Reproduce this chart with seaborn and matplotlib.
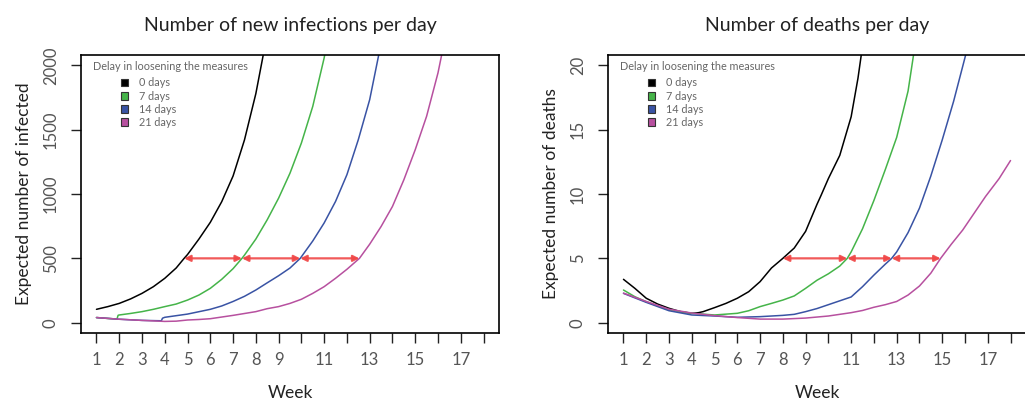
import pandas as pd
import matplotlib.pyplot as plt
import seaborn as sns
from matplotlib.patches import Patch

# ---- data (week, value) ----
delays = ["0 days", "7 days", "14 days", "21 days"]
colors = ["#000000", "#45B449", "#3953A4", "#B7509F"]

inf_0_w = [1, 1.5, 2, 2.5, 3, 3.5, 4, 4.5, 4.85, 5, 5.5, 6, 6.5, 7, 7.5, 8, 8.4]
inf_0_v = [104, 125, 150, 185, 228, 280, 345, 425, 500, 530, 650, 780, 940, 1140, 1420, 1780, 2150]
inf_7_w = [1, 1.5, 1.9, 1.95, 2, 2.5, 3, 3.5, 4, 4.5, 5, 5.5, 6, 6.5, 7, 7.39, 7.5, 8, 8.5, 9, 9.5, 10, 10.5, 11, 11.2]
inf_7_v = [40, 33, 28, 58, 60, 72, 86, 104, 125, 145, 176, 215, 267, 337, 420, 500, 525, 650, 800, 968, 1162, 1396, 1681, 2057, 2250]
inf_14_w = [1, 2, 3, 3.85, 3.9, 4, 5, 6, 6.5, 7, 7.5, 8, 8.5, 9, 9.5, 9.95, 10.5, 11, 11.5, 12, 12.5, 13, 13.4, 13.6]
inf_14_v = [40, 27, 18, 15, 35, 42, 67, 104, 130, 165, 205, 254, 310, 365, 425, 500, 635, 775, 942, 1150, 1422, 1733, 2083, 2250]
inf_21_w = [1, 2, 3, 4, 4.5, 5, 5.5, 6, 7, 8, 8.5, 9, 9.5, 10, 10.5, 11, 11.5, 12, 12.55, 13, 13.5, 14, 14.5, 15, 15.5, 16, 16.3]
inf_21_v = [40, 27, 18, 10, 12, 21, 25, 31, 57, 86, 109, 125, 150, 182, 228, 280, 345, 415, 500, 610, 747, 903, 1110, 1344, 1604, 1941, 2200]

dth_0_w = [1, 1.5, 2, 2.5, 3, 3.5, 4, 4.3, 4.5, 5, 5.5, 6, 6.5, 7, 7.5, 8, 8.5, 9, 9.5, 9.68, 10, 10.5, 10.7, 11, 11.3, 11.5]
dth_0_v = [3.37, 2.67, 1.9, 1.45, 1.12, 0.86, 0.73, 0.78, 0.86, 1.17, 1.5, 1.9, 2.41, 3.19, 4.25, 5.0, 5.8, 7.1, 9.2, 9.9, 11.2, 13.0, 14.2, 16.0, 19.0, 21.5]
dth_7_w = [1, 1.5, 2, 3, 4, 5, 6, 6.5, 7, 7.5, 8, 8.5, 9, 9.5, 10, 10.5, 10.83, 11, 11.5, 12, 12.5, 13, 13.5, 13.8]
dth_7_v = [2.54, 2.02, 1.63, 0.99, 0.73, 0.6, 0.73, 0.93, 1.25, 1.5, 1.76, 2.08, 2.67, 3.3, 3.8, 4.4, 5.0, 5.5, 7.3, 9.5, 11.9, 14.4, 18.0, 21.5]
dth_14_w = [1, 2, 3, 4, 5, 6, 7, 8, 8.5, 9, 9.5, 10, 10.5, 11, 11.5, 12, 12.5, 12.78, 13, 13.5, 14, 14.5, 15, 15.5, 16, 16.2]
dth_14_v = [2.28, 1.58, 0.93, 0.6, 0.52, 0.42, 0.47, 0.57, 0.65, 0.86, 1.1, 1.4, 1.7, 2.0, 2.8, 3.7, 4.55, 5.0, 5.5, 7.0, 8.9, 11.4, 14.2, 17.2, 20.6, 22.0]
dth_21_w = [1, 2, 3, 4, 5, 6, 7, 8, 9, 10, 11, 11.5, 12, 12.5, 13, 13.5, 14, 14.5, 14.93, 15.4, 15.9, 16.4, 16.9, 17.5, 18]
dth_21_v = [2.3, 1.65, 1.05, 0.75, 0.55, 0.4, 0.28, 0.28, 0.36, 0.52, 0.78, 0.95, 1.2, 1.4, 1.65, 2.15, 2.85, 3.85, 5.0, 6.1, 7.2, 8.5, 9.8, 11.2, 12.6]

cross_inf = [4.85, 7.39, 9.95, 12.55]
cross_dth = [8.0, 10.83, 12.78, 14.93]

weeks = list(range(1, 19))
week_labels = [str(w) if (w <= 9 or w % 2 == 1) else "" for w in weeks]


def build(series):
    frames = []
    for name, (w, v) in zip(delays, series):
        frames.append(pd.DataFrame({"week": w, "value": v, "delay": name}))
    return pd.concat(frames, ignore_index=True)


df_inf = build([(inf_0_w, inf_0_v), (inf_7_w, inf_7_v), (inf_14_w, inf_14_v), (inf_21_w, inf_21_v)])
df_dth = build([(dth_0_w, dth_0_v), (dth_7_w, dth_7_v), (dth_14_w, dth_14_v), (dth_21_w, dth_21_v)])

sns.set_style("ticks")
plt.rcParams["font.family"] = ["Lato", "DejaVu Sans"]

fig = plt.figure(figsize=(10.25, 4.04), dpi=100)
ax1 = fig.add_axes([81 / 1025, 1 - 333 / 404, 418 / 1025, 278 / 404])
ax2 = fig.add_axes([608 / 1025, 1 - 333 / 404, 418 / 1025, 278 / 404])

palette = dict(zip(delays, colors))


def panel(ax, df, ymax, yticks, cross, level, title, ylabel):
    sns.lineplot(data=df, x="week", y="value", hue="delay", palette=palette,
                 estimator=None, sort=True, legend=False, linewidth=1.1, ax=ax)
    ax.set_xlim(1 - 0.04 * 17, 18 + 0.04 * 17)
    ax.set_ylim(-0.04 * ymax, ymax * 1.04)
    ax.set_xticks(weeks)
    ax.set_xticklabels(week_labels)
    ax.set_yticks(yticks)
    ax.set_yticklabels([str(t) for t in yticks], rotation=90, va="center")
    for s in ax.spines.values():
        s.set_visible(True)
        s.set_linewidth(1.2)
        s.set_color("black")
    ax.tick_params(axis="both", direction="out", length=7, width=1.0, color="#222222",
                   labelsize=12, labelcolor="#555555")
    ax.tick_params(axis="x", pad=7)
    ax.tick_params(axis="y", pad=9)
    ax.set_xlabel("Week", fontsize=12.5, labelpad=12, color="#222222")
    ax.set_ylabel(ylabel, fontsize=12.5, labelpad=8, color="#222222")
    ax.set_title(title, fontsize=14, pad=17, color="#222222")

    # red double arrows between crossing points
    for a, b in zip(cross[:-1], cross[1:]):
        ax.annotate("", xy=(b, level), xytext=(a, level),
                    arrowprops=dict(arrowstyle="<|-|>", color="#F04848", lw=1.6,
                                    mutation_scale=9, shrinkA=0, shrinkB=0, alpha=0.9))

    # legend
    ax.text(0.028, 0.98, "Delay in loosening the measures", transform=ax.transAxes,
            fontsize=7.8, color="#666666", va="top", ha="left")
    handles = [Patch(facecolor=c, edgecolor="#333333", linewidth=0.8) for c in colors]
    leg = ax.legend(handles, delays, loc="upper left", bbox_to_anchor=(0.085, 0.935),
                    frameon=False, fontsize=7.8, handlelength=0.7, handleheight=0.7,
                    handletextpad=1.0, labelspacing=0.2, borderaxespad=0)
    for t in leg.get_texts():
        t.set_color("#666666")


panel(ax1, df_inf, 2000, [0, 500, 1000, 1500, 2000], cross_inf, 500,
      "Number of new infections per day", "Expected number of infected")
panel(ax2, df_dth, 20, [0, 5, 10, 15, 20], cross_dth, 5,
      "Number of deaths per day", "Expected number of deaths")

fig.savefig("out.png", dpi=100)
plt.close(fig)
